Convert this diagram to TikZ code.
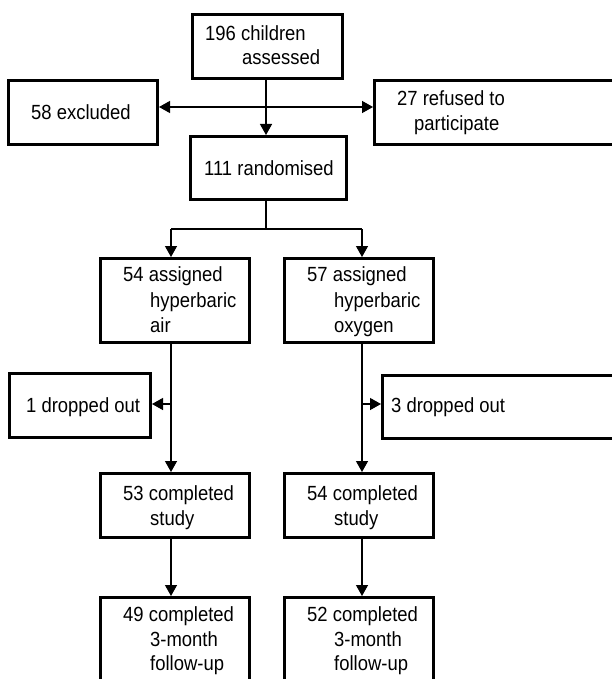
\documentclass[tikz,border=0pt]{standalone}
\usepackage{fontspec}
\setmainfont{Liberation Sans}[FakeStretch=0.9]
\usetikzlibrary{arrows.meta}
\tikzset{
  box/.style={draw=black, line width=3pt, fill=white, rectangle, inner sep=0pt},
  txt/.style={anchor=base west, inner sep=0pt, font=\fontsize{20.5}{24}\selectfont},
  conn/.style={draw=black, line width=1.3pt},
  arr/.style={conn, -{Triangle[length=11pt,width=12pt]}},
  arrs/.style={conn, {Triangle[length=11pt,width=12pt]}-{Triangle[length=11pt,width=12pt]}}
}
\begin{document}
\begin{tikzpicture}[x=1pt,y=-1pt]
\useasboundingbox (0,0) rectangle (612,679);
\clip (0,0) rectangle (612,679);
\fill[white] (0,0) rectangle (612,679);
% boxes
\node[box, minimum width=150pt, minimum height=64pt] (a)  at (267.5,46.5) {};
\node[box, minimum width=149pt, minimum height=64pt] (ex) at (83,112.5) {};
\node[box, minimum width=254pt, minimum height=64pt] (rf) at (501.5,112.5) {};
\node[box, minimum width=156pt, minimum height=63pt] (r)  at (268.5,168) {};
\node[box, minimum width=149pt, minimum height=84pt] (ha) at (175,300.5) {};
\node[box, minimum width=149pt, minimum height=84pt] (ho) at (359,300.5) {};
\node[box, minimum width=141pt, minimum height=64pt] (d1) at (80,405.5) {};
\node[box, minimum width=246pt, minimum height=63pt] (d3) at (505.5,407) {};
\node[box, minimum width=149pt, minimum height=64pt] (sa) at (175,505.5) {};
\node[box, minimum width=149pt, minimum height=64pt] (so) at (359,505.5) {};
\node[box, minimum width=149pt, minimum height=101pt] (fa) at (175,648) {};
\node[box, minimum width=149pt, minimum height=101pt] (fo) at (359,648) {};
% texts
\node[txt] (a1) at (205,40.5) {196 children};
\node[txt] (a2) at (242,65) {assessed};
\node[txt] (ex1) at (31,120) {58 excluded};
\node[txt] (rf1) at (397,106) {27 refused to};
\node[txt] (rf2) at (414,130.5) {participate};
\node[txt] (r1) at (204,175.5) {111 randomised};
\node[txt] (ha1) at (123,281.5) {54 assigned};
\node[txt] (ha2) at (150,307.5) {hyperbaric};
\node[txt] (ha3) at (150,332.5) {air};
\node[txt] (ho1) at (307,281.5) {57 assigned};
\node[txt] (ho2) at (334,307.5) {hyperbaric};
\node[txt] (ho3) at (334,332.5) {oxygen};
\node[txt] (d1t) at (26,412) {1 dropped out};
\node[txt] (d3t) at (391,412) {3 dropped out};
\node[txt] (sa1) at (123,500) {53 completed};
\node[txt] (sa2) at (150,525) {study};
\node[txt] (so1) at (307,500) {54 completed};
\node[txt] (so2) at (334,525) {study};
\node[txt] (fa1) at (123,621.5) {49 completed};
\node[txt] (fa2) at (150,646.5) {3-month};
\node[txt] (fa3) at (150,670.5) {follow-up};
\node[txt] (fo1) at (307,621.5) {52 completed};
\node[txt] (fo2) at (334,646.5) {3-month};
\node[txt] (fo3) at (334,670.5) {follow-up};
% junction coordinates
\coordinate (j1) at (266,107);
\coordinate (j2) at (266,229);
\coordinate (la) at (171,229);
\coordinate (lb) at (362,229);
% connectors
\draw[arr] (j1 |- a.south) -- (j1 |- r.north);
\draw[arrs] (ex.east |- j1) -- (rf.west |- j1);
\draw[conn] (j2 |- r.south) -- (j2);
\draw[conn] (la) -- (lb);
\draw[arr] (la) -- (la |- ha.north);
\draw[arr] (lb) -- (lb |- ho.north);
\draw[arr] (la |- ha.south) -- (la |- sa.north);
\draw[arr] (lb |- ho.south) -- (lb |- so.north);
\coordinate (ba) at (171,404);
\coordinate (bb) at (362,404);
\draw[arr] (ba) -- (d1.east |- ba);
\draw[arr] (bb) -- (d3.west |- bb);
\draw[arr] (la |- sa.south) -- (la |- fa.north);
\draw[arr] (lb |- so.south) -- (lb |- fo.north);
\end{tikzpicture}
\end{document}
